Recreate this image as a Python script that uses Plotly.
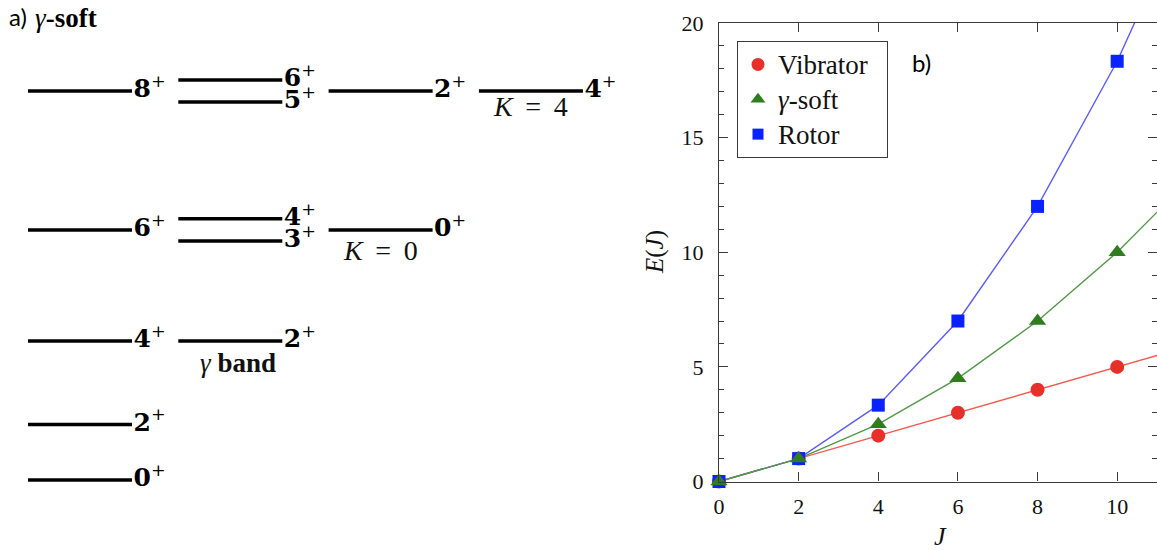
import plotly.graph_objects as go

# ---------------- panel b) data ----------------
J = [0, 2, 4, 6, 8, 10]
vibrator = [0, 1, 2, 3, 4, 5]
gamma_soft = [0, 1, 2.5, 4.5, 7, 10]
rotor = [0, 1, 3.33, 7, 12, 18.33]
# connecting lines continue past the last point and run off the frame
J_line = [0, 2, 4, 6, 8, 10, 12]
vibrator_line = [0, 1, 2, 3, 4, 5, 6]
gamma_soft_line = [0, 1, 2.5, 4.5, 7, 10, 13.5]
rotor_line = [0, 1, 3.33, 7, 12, 18.33, 26]
series_names = ["Vibrator", "<i>γ</i>-soft", "Rotor"]
x_ticks = [0, 2, 4, 6, 8, 10]
y_ticks = [0, 5, 10, 15, 20]

# ---------------- panel a) data: level scheme ----------------
level_band = [0, 0, 0, 0, 0, 1, 1, 1, 1, 1, 2, 2, 3]
level_J = [0, 2, 4, 6, 8, 2, 3, 4, 5, 6, 0, 2, 4]
level_E = [0, 1, 2.5, 4.5, 7, 2.5, 4.5, 4.5, 7, 7, 4.5, 7, 7]
band_names = ["", "γ band", "K = 0", "K = 4"]

# ---------------- styling / layout constants ----------------
W, H = 1157, 550
COL_START0, COL_STEP, LINE_LEN = 28, 150.3, 104
E_PX = (480 - 91) / 7.0          # pixels per energy unit in the scheme
SPLIT = 0.2                      # visual split of degenerate levels
band_label_dx = [0, 8, 0, 0]
band_label_dy = [0, 22, 21, 15]

red_m, red_l = "#e8302a", "#f05a50"
grn_m, grn_l = "#2f7d1f", "#4f9a43"
blu_m, blu_l = "#0a22ff", "#5a5cff"
axis_col = "#3a3a3a"

fig = go.Figure()

# ---- level scheme (panel a) ----
disp_E = []
for i, (b, e, j) in enumerate(zip(level_band, level_E, level_J)):
    same = [k for k in range(len(level_E)) if level_band[k] == b and level_E[k] == e]
    if len(same) > 1:
        order = sorted(same, key=lambda k: level_J[k])
        disp_E.append(e + (-SPLIT if order.index(i) == 0 else SPLIT))
    else:
        disp_E.append(e)

lx, ly = [], []
tx, ty, tt = [], [], []
for b, j, e in zip(level_band, level_J, disp_E):
    x0 = COL_START0 + COL_STEP * b
    x1 = x0 + LINE_LEN
    lx += [x0, x1, None]
    ly += [e, e, None]
    tx.append(x1 + 1.5)
    ty.append(e)
    tt.append(f"<b>{j}</b><sup>+</sup>")

fig.add_trace(go.Scatter(x=lx, y=ly, mode="lines", xaxis="x2", yaxis="y2",
                         line=dict(color="black", width=3.5), showlegend=False,
                         hoverinfo="skip"))
fig.add_trace(go.Scatter(x=tx, y=ty, mode="text", text=tt, xaxis="x2", yaxis="y2",
                         textposition="middle right", showlegend=False,
                         textfont=dict(family="DejaVu Serif", size=25, color="black"),
                         hoverinfo="skip", cliponaxis=False))

SP = "\u00a0\u2009"
annotations = []
for b, name in enumerate(band_names):
    if not name:
        continue
    es = [e for bb, e in zip(level_band, disp_E) if bb == b]
    xc = COL_START0 + COL_STEP * b + LINE_LEN / 2 + band_label_dx[b]
    if name.startswith("γ"):
        txt = "<i>γ</i> <b>band</b>"
        size = 27
    else:
        parts = name.split(" ")
        txt = "<i>" + parts[0] + "</i>" + SP + parts[1] + SP + parts[2]
        size = 28
    annotations.append(dict(x=xc, y=min(es), xref="x2", yref="y2", text=txt,
                            showarrow=False, yshift=-band_label_dy[b],
                            font=dict(family="Liberation Serif", size=size, color="#111"),
                            xanchor="center", yanchor="middle"))

annotations.append(dict(x=7 / W, y=1 - 17 / H, xref="paper", yref="paper", text="a)",
                        showarrow=False, xanchor="left", yanchor="middle",
                        font=dict(family="Lato", size=24, color="black")))
annotations.append(dict(x=33 / W, y=1 - 18 / H, xref="paper", yref="paper",
                        text="<i>γ</i><b>-soft</b>",
                        showarrow=False, xanchor="left", yanchor="middle",
                        font=dict(family="Liberation Serif", size=27, color="black")))
annotations.append(dict(x=910 / W, y=1 - 62 / H, xref="paper", yref="paper", text="b)",
                        showarrow=False, xanchor="left", yanchor="middle",
                        font=dict(family="Lato", size=24, color="black")))
annotations.append(dict(x=655 / W, y=1 - 252 / H, xref="paper", yref="paper",
                        text="<i>E</i>(<i>J</i>)", textangle=-90,
                        showarrow=False, xanchor="center", yanchor="middle",
                        font=dict(family="Liberation Serif", size=25, color="#111")))
annotations.append(dict(x=940 / W, y=1 - 536 / H, xref="paper", yref="paper",
                        text="<i>J</i>",
                        showarrow=False, xanchor="center", yanchor="middle",
                        font=dict(family="Liberation Serif", size=26, color="#111")))

# ---- panel b) lines ----
for yl, col in [(vibrator_line, red_l), (rotor_line, blu_l), (gamma_soft_line, grn_l)]:
    fig.add_trace(go.Scatter(x=J_line, y=yl, mode="lines", line=dict(color=col, width=1.4),
                             showlegend=False, hoverinfo="skip"))
for yv, col, sym, sz in [(vibrator, red_m, "circle", 14), (rotor, blu_m, "square", 13),
                         (gamma_soft, grn_m, "triangle-up", 15)]:
    fig.add_trace(go.Scatter(x=J, y=yv, mode="markers", cliponaxis=False,
                             marker=dict(color=col, symbol=sym, size=sz, line=dict(width=0)),
                             showlegend=False))
for name, col, sym, sz in [(series_names[0], red_m, "circle", 13),
                           (series_names[1], grn_m, "triangle-up", 13),
                           (series_names[2], blu_m, "square", 11)]:
    fig.add_trace(go.Scatter(x=[None], y=[None], mode="markers",
                             name='<span style="font-size:27px">' + name + "\u00a0\u00a0</span>",
                             marker=dict(color=col, symbol=sym, size=sz, line=dict(width=0))))

fig.update_layout(
    width=W, height=H,
    margin=dict(l=0, r=0, t=0, b=0, autoexpand=False),
    paper_bgcolor="white", plot_bgcolor="white",
    showlegend=True,
    legend=dict(x=737 / W, y=1 - 41 / H, xanchor="left", yanchor="top",
                bordercolor=axis_col, borderwidth=1, bgcolor="white",
                font=dict(family="Liberation Serif", size=24.5, color="#111"),
                traceorder="normal"),
    xaxis=dict(domain=[719 / W, 1.0], range=[0, 11], tickmode="array", tickvals=x_ticks,
               ticks="inside", ticklen=9, tickcolor=axis_col, showline=True,
               linecolor=axis_col, linewidth=1.2, mirror="ticks", showgrid=False,
               zeroline=False, ticklabelstandoff=5, automargin=False,
               tickfont=dict(family="Liberation Serif", size=22, color="#111")),
    yaxis=dict(domain=[1 - 481.5 / H, 1 - 23 / H], range=[0, 20], tickmode="array",
               tickvals=y_ticks, ticks="inside", ticklen=9, tickcolor=axis_col,
               showline=True, linecolor=axis_col, linewidth=1.2, mirror="ticks",
               showgrid=False, zeroline=False, ticklabelstandoff=10, automargin=False,
               minor=dict(ticks="inside", ticklen=5, dtick=1, tickcolor=axis_col,
                          showgrid=False),
               tickfont=dict(family="Liberation Serif", size=22, color="#111")),
    xaxis2=dict(domain=[0, 694 / W], range=[0, 694], visible=False, fixedrange=True,
                automargin=False, anchor="y2"),
    yaxis2=dict(domain=[0, 1], range=[(480 - 550) / E_PX, 480 / E_PX], visible=False,
                fixedrange=True, anchor="x2", automargin=False),
    annotations=annotations,
)

fig.write_html("out.html")
